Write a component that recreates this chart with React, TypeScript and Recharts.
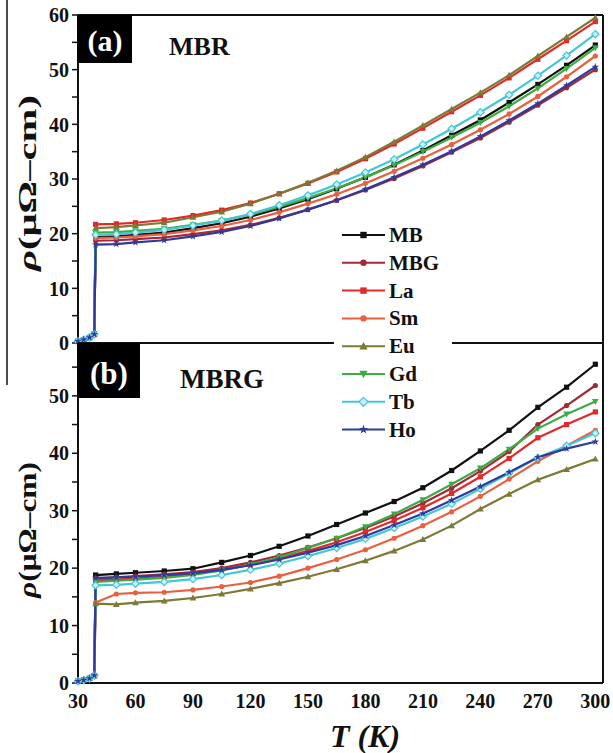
import { LineChart, Line, XAxis, YAxis } from "recharts";

// temperature grid (K) shared by both panels
const temps = [30, 33, 36, 38.5, 39.2, 50, 60, 75, 90, 105, 120, 135, 150, 165, 180, 195, 210, 225, 240, 255, 270, 285, 300];

// panel (a) MBR, rho in uOhm-cm
const mbA = [0.3, 0.6, 1.0, 1.6, 19.4, 19.5, 19.8, 20.2, 21.0, 21.9, 23.1, 24.6, 26.3, 28.2, 30.3, 32.6, 35.2, 38.0, 40.8, 44.0, 47.3, 50.8, 54.5];
const mbgA = [0.3, 0.6, 1.0, 1.5, 18.7, 18.8, 19.0, 19.3, 19.9, 20.6, 21.6, 22.9, 24.4, 26.1, 28.0, 30.1, 32.4, 34.9, 37.5, 40.4, 43.5, 46.7, 50.0];
const laA = [0.3, 0.6, 1.0, 1.6, 21.7, 21.8, 22.0, 22.5, 23.3, 24.3, 25.6, 27.3, 29.2, 31.3, 33.7, 36.4, 39.3, 42.3, 45.3, 48.5, 51.9, 55.3, 58.8];
const smA = [0.3, 0.6, 1.0, 1.5, 19.2, 19.3, 19.5, 19.9, 20.6, 21.4, 22.5, 23.9, 25.5, 27.2, 29.2, 31.4, 33.8, 36.3, 39.0, 41.9, 45.1, 48.7, 52.5];
const euA = [0.3, 0.6, 1.0, 1.6, 21.0, 21.2, 21.5, 22.0, 23.0, 24.0, 25.5, 27.3, 29.3, 31.5, 34.0, 36.8, 39.8, 42.8, 45.8, 49.0, 52.5, 56.0, 59.5];
const gdA = [0.3, 0.6, 1.0, 1.6, 20.2, 20.3, 20.5, 20.9, 21.6, 22.4, 23.5, 24.9, 26.5, 28.3, 30.3, 32.5, 35.0, 37.6, 40.3, 43.3, 46.6, 50.2, 54.0];
const tbA = [0.3, 0.6, 1.0, 1.6, 19.8, 19.9, 20.2, 20.7, 21.5, 22.4, 23.6, 25.2, 27.0, 29.0, 31.2, 33.6, 36.3, 39.2, 42.2, 45.4, 48.9, 52.6, 56.5];
const hoA = [0.3, 0.6, 1.0, 1.6, 18.0, 18.1, 18.4, 18.8, 19.5, 20.3, 21.4, 22.8, 24.4, 26.1, 28.1, 30.3, 32.6, 35.1, 37.8, 40.7, 43.8, 47.1, 50.5];

// panel (b) MBRG
const mbB = [0.3, 0.5, 0.8, 1.3, 18.8, 19.0, 19.2, 19.5, 19.9, 21.0, 22.2, 23.8, 25.6, 27.6, 29.6, 31.6, 34.0, 37.0, 40.4, 44.0, 48.0, 51.5, 55.5];
const mbgB = [0.3, 0.5, 0.8, 1.3, 18.2, 18.4, 18.6, 18.9, 19.3, 20.0, 21.0, 22.2, 23.6, 25.2, 27.0, 29.0, 31.3, 33.9, 36.9, 40.3, 45.0, 48.3, 51.8];
const laB = [0.3, 0.5, 0.8, 1.3, 17.9, 18.0, 18.2, 18.5, 19.0, 19.7, 20.6, 21.7, 23.0, 24.5, 26.3, 28.3, 30.5, 33.0, 35.9, 39.1, 42.7, 45.0, 47.2];
const smB = [0.3, 0.5, 0.8, 1.3, 14.0, 15.5, 15.7, 15.8, 16.2, 16.8, 17.5, 18.6, 20.0, 21.5, 23.2, 25.2, 27.4, 29.8, 32.5, 35.5, 38.6, 41.3, 44.0];
const euB = [0.3, 0.5, 0.8, 1.3, 13.8, 13.7, 14.0, 14.3, 14.8, 15.5, 16.4, 17.4, 18.5, 19.8, 21.3, 23.0, 25.0, 27.4, 30.3, 32.9, 35.4, 37.2, 39.0];
const gdB = [0.3, 0.5, 0.8, 1.3, 17.6, 17.8, 18.0, 18.3, 18.8, 19.6, 20.6, 21.9, 23.5, 25.2, 27.2, 29.4, 31.9, 34.6, 37.4, 40.7, 44.3, 46.8, 49.0];
const tbB = [0.3, 0.5, 0.8, 1.3, 17.0, 17.1, 17.3, 17.6, 18.1, 18.8, 19.7, 20.8, 22.1, 23.5, 25.1, 27.0, 29.0, 31.2, 33.8, 36.5, 39.2, 41.3, 43.5];
const hoB = [0.3, 0.5, 0.8, 1.3, 18.3, 18.4, 18.5, 18.8, 19.1, 19.7, 20.5, 21.5, 22.7, 24.0, 25.6, 27.5, 29.5, 31.8, 34.2, 36.7, 39.3, 40.8, 42.0];

const seriesNames = ["MB", "MBG", "La", "Sm", "Eu", "Gd", "Tb", "Ho"];
const seriesColors = ["#111111", "#a3283a", "#e02a2a", "#e8603e", "#7d7a35", "#3cad45", "#45c6d6", "#2e3a9c"];
const seriesShapes = ["square", "circle", "square", "circle", "up", "down", "diamond", "star"];

const xTicks = [30, 45, 60, 75, 90, 105, 120, 135, 150, 165, 180, 195, 210, 225, 240, 255, 270, 285, 300];
const yTicksA = [0, 5, 10, 15, 20, 25, 30, 35, 40, 45, 50, 55, 60];
const yTicksB = [0, 5, 10, 15, 20, 25, 30, 35, 40, 45, 50, 55];

const FONT = '"Liberation Serif", "Times New Roman", Times, serif';
const txt = { fontFamily: FONT, fontWeight: 700 } as const;

const buildRows = (cols: number[][]) =>
  temps.map((T, i) => {
    const row: Record<string, number> = { T };
    seriesNames.forEach((n, k) => (row[n] = cols[k][i]));
    return row;
  });

const rowsA = buildRows([mbA, mbgA, laA, smA, euA, gdA, tbA, hoA]);
const rowsB = buildRows([mbB, mbgB, laB, smB, euB, gdB, tbB, hoB]);

function Marker({ shape, cx, cy, color, s = 2.6 }: any) {
  if (cx == null || cy == null) return null;
  switch (shape) {
    case "square":
      return <rect x={cx - s} y={cy - s} width={2 * s} height={2 * s} fill={color} />;
    case "circle":
      return <circle cx={cx} cy={cy} r={s} fill={color} />;
    case "up":
      return <polygon points={`${cx},${cy - s * 1.3} ${cx - s * 1.3},${cy + s} ${cx + s * 1.3},${cy + s}`} fill={color} />;
    case "down":
      return <polygon points={`${cx},${cy + s * 1.3} ${cx - s * 1.3},${cy - s} ${cx + s * 1.3},${cy - s}`} fill={color} />;
    case "diamond":
      return (
        <polygon
          points={`${cx},${cy - s * 1.4} ${cx + s * 1.4},${cy} ${cx},${cy + s * 1.4} ${cx - s * 1.4},${cy}`}
          fill="#c9f1f5"
          stroke={color}
          strokeWidth={1.2}
        />
      );
    default: {
      const pts: string[] = [];
      for (let i = 0; i < 10; i++) {
        const r = i % 2 === 0 ? s * 1.5 : s * 0.6;
        const a = -Math.PI / 2 + (i * Math.PI) / 5;
        pts.push(`${cx + r * Math.cos(a)},${cy + r * Math.sin(a)}`);
      }
      return <polygon points={pts.join(" ")} fill={color} />;
    }
  }
}

const renderYTick = (props: any) => {
  const { x, y, payload } = props;
  if (payload.value % 10 !== 0) return <g />;
  return (
    <text x={x} y={y} dy="0.36em" textAnchor="end" style={{ ...txt, fontSize: 20 }} fill="#111">
      {payload.value}
    </text>
  );
};

const renderXTick = (props: any) => {
  const { x, y, payload } = props;
  if ((payload.value - 30) % 30 !== 0) return <g />;
  return (
    <text x={x} y={y} dy="0.8em" textAnchor="middle" style={{ ...txt, fontSize: 20 }} fill="#111">
      {payload.value}
    </text>
  );
};

const axisLine = { stroke: "#111", strokeWidth: 2 };
const tickLine = { stroke: "#111", strokeWidth: 1.5 };

function SeriesLines({ xAxisId }: { xAxisId?: string }) {
  return (
    <>
      {seriesNames.map((n, k) => (
        <Line
          key={n}
          dataKey={n}
          xAxisId={xAxisId ?? 0}
          type="linear"
          stroke={seriesColors[k]}
          strokeWidth={2.2}
          isAnimationActive={false}
          dot={(p: any) => <Marker key={`${n}-${p.index}`} shape={seriesShapes[k]} cx={p.cx} cy={p.cy} color={seriesColors[k]} />}
          activeDot={false}
        />
      ))}
    </>
  );
}

export default function App() {
  const legendY0 = 235;
  const legendStep = 27.8;
  return (
    <div style={{ position: "absolute", left: 0, top: 0, width: 613, height: 753, background: "#fff" }}>
      {/* panel (a) */}
      <div style={{ position: "absolute", left: 0, top: 0 }}>
        <LineChart width={613} height={360} data={rowsA} margin={{ top: 15, right: 10, bottom: 17, left: 0 }}>
          <XAxis dataKey="T" type="number" orientation="top" mirror domain={[30, 304]} ticks={xTicks} tick={false} tickSize={6} axisLine={axisLine} tickLine={tickLine} />
          <YAxis type="number" domain={[0, 60]} ticks={yTicksA} interval={0} width={78} tick={renderYTick} tickSize={6} tickMargin={3} axisLine={axisLine} tickLine={tickLine} />
          <YAxis yAxisId="r" orientation="right" mirror type="number" domain={[0, 60]} ticks={yTicksA} interval={0} tick={false} tickSize={6} axisLine={axisLine} tickLine={tickLine} />
          {SeriesLines({})}
        </LineChart>
      </div>

      {/* panel (b) */}
      <div style={{ position: "absolute", left: 0, top: 0 }}>
        <LineChart width={613} height={753} data={rowsB} margin={{ top: 343, right: 10, bottom: 40, left: 0 }}>
          <XAxis xAxisId="t" dataKey="T" type="number" orientation="top" mirror domain={[30, 304]} tick={false} tickLine={false} axisLine={axisLine} />
          <XAxis xAxisId="b" dataKey="T" type="number" orientation="bottom" mirror domain={[30, 304]} ticks={xTicks} interval={0} tick={false} tickSize={6} axisLine={axisLine} tickLine={tickLine} />
          <XAxis xAxisId="lbl" dataKey="T" type="number" orientation="bottom" height={30} domain={[30, 304]} ticks={xTicks} interval={0} tick={renderXTick} tickLine={false} axisLine={false} tickSize={6} tickMargin={3} />
          <YAxis type="number" domain={[0, 59.2]} ticks={yTicksB} interval={0} width={78} tick={renderYTick} tickSize={6} tickMargin={3} axisLine={axisLine} tickLine={tickLine} />
          <YAxis yAxisId="r" orientation="right" mirror type="number" domain={[0, 59.2]} ticks={yTicksB} interval={0} tick={false} tickSize={6} axisLine={axisLine} tickLine={tickLine} />
          {SeriesLines({ xAxisId: "b" })}
        </LineChart>
      </div>

      {/* labels, legend */}
      <svg width={613} height={753} style={{ position: "absolute", left: 0, top: 0, pointerEvents: "none", ...txt }}>
        <line x1={7} y1={0} x2={7} y2={385} stroke="#111" strokeWidth={1.5} />

        <rect x={77} y={15} width={55} height={48} fill="#000" />
        <text x={105} y={51} textAnchor="middle" fill="#fff" style={{ ...txt, fontSize: 30 }}>(a)</text>
        <text x={169} y={55} fill="#111" style={{ ...txt, fontSize: 26 }}>MBR</text>

        <rect x={77} y={343} width={63} height={55} fill="#000" />
        <text x={109} y={384} textAnchor="middle" fill="#fff" style={{ ...txt, fontSize: 31 }}>(b)</text>
        <text x={180} y={388} fill="#111" style={{ ...txt, fontSize: 27 }}>MBRG</text>

        <text transform="translate(36,183) rotate(-90)" textAnchor="middle" style={{ ...txt, fontSize: 26 }} fill="#111" textLength={176} lengthAdjust="spacingAndGlyphs">
          <tspan fontStyle="italic">ρ</tspan>(μΩ–cm)
        </text>
        <text transform="translate(36,530) rotate(-90)" textAnchor="middle" style={{ ...txt, fontSize: 26 }} fill="#111" textLength={136} lengthAdjust="spacingAndGlyphs">
          <tspan fontStyle="italic">ρ</tspan>(μΩ–cm)
        </text>

        <text x={365} y={747} textAnchor="middle" style={{ ...txt, fontSize: 32, fontStyle: "italic" }} fill="#111">
          T (K)
        </text>

        <rect x={334} y={221} width={118} height={222} fill="#fff" />
        {seriesNames.map((n, k) => {
          const y = legendY0 + k * legendStep;
          return (
            <g key={n}>
              <line x1={342} y1={y} x2={385} y2={y} stroke={seriesColors[k]} strokeWidth={2} />
              <Marker shape={seriesShapes[k]} cx={363.5} cy={y} color={seriesColors[k]} s={3.2} />
              <text x={389} y={y + 7} fill="#111" style={{ ...txt, fontSize: 21 }}>{n}</text>
            </g>
          );
        })}
      </svg>
    </div>
  );
}
